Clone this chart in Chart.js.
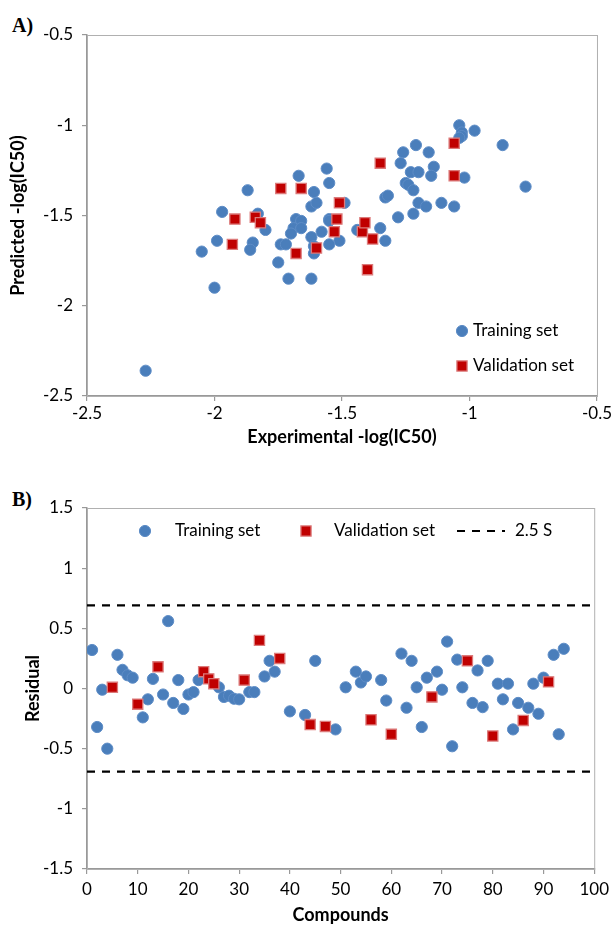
<!DOCTYPE html>
<html>
<head>
<meta charset="utf-8">
<script src="https://cdn.jsdelivr.net/npm/chart.js@4.4.0/dist/chart.umd.min.js"></script>
<style>
body{margin:0;background:#fff;width:614px;height:927px;position:relative;overflow:hidden}
.tag{position:absolute;left:12px;font-family:"Liberation Serif",serif;font-weight:bold;font-size:20px;line-height:20px}
canvas{position:absolute;left:0}
</style>
</head>
<body>
<div class="tag" style="top:15px">A)</div>
<div class="tag" style="top:489px">B)</div>
<canvas id="chartA" width="614" height="470" style="top:0"></canvas>
<canvas id="chartB" width="614" height="457" style="top:470px"></canvas>
<script>
// panel A: experimental vs predicted
const trainExp = [-1.87,-1.97,-1.83,-1.99,-1.85,-1.86,-2.05,-2.00,-2.27,-1.67,-1.56,-1.55,-1.61,-1.26,-1.21,-1.27,-1.23,-1.20,-1.25,-1.24,-1.22,-1.20,-1.33,-1.32,-1.28,-1.22,-1.49,-1.62,-1.60,-1.80,-1.68,-1.66,-1.69,-1.70,-1.66,-1.55,-1.55,-1.58,-1.62,-1.51,-1.55,-1.61,-1.61,-1.74,-1.72,-1.75,-1.71,-1.62,-1.44,-1.35,-1.33,-1.04,-1.03,-1.03,-1.04,-0.98,-0.87,-1.16,-1.14,-1.15,-1.02,-0.78,-1.17,-1.11,-1.06];
const trainPred = [-1.36,-1.48,-1.49,-1.64,-1.65,-1.69,-1.70,-1.90,-2.36,-1.28,-1.24,-1.32,-1.37,-1.15,-1.11,-1.21,-1.26,-1.26,-1.32,-1.33,-1.36,-1.43,-1.40,-1.39,-1.51,-1.49,-1.43,-1.45,-1.43,-1.58,-1.52,-1.53,-1.57,-1.60,-1.57,-1.52,-1.53,-1.59,-1.62,-1.64,-1.66,-1.67,-1.71,-1.66,-1.66,-1.76,-1.85,-1.85,-1.58,-1.57,-1.64,-1.00,-1.04,-1.06,-1.07,-1.03,-1.11,-1.15,-1.23,-1.28,-1.29,-1.34,-1.45,-1.43,-1.45];
const valExp = [-1.92,-1.84,-1.82,-1.93,-1.74,-1.66,-1.35,-1.51,-1.52,-1.53,-1.60,-1.68,-1.42,-1.41,-1.38,-1.40,-1.06,-1.06];
const valPred = [-1.52,-1.51,-1.54,-1.66,-1.35,-1.35,-1.21,-1.43,-1.52,-1.59,-1.68,-1.71,-1.59,-1.54,-1.63,-1.80,-1.10,-1.28];

// panel B: residuals by compound number
const trainIdx = [1,2,3,4,6,7,8,9,11,12,13,15,16,17,18,19,20,21,22,26,27,28,29,30,32,33,35,36,37,40,43,45,49,51,53,54,55,58,59,62,63,64,65,66,67,69,70,71,72,73,74,76,77,78,79,81,82,83,84,85,87,88,89,90,92,93,94];
const trainRes = [0.32,-0.32,-0.01,-0.50,0.28,0.155,0.11,0.09,-0.24,-0.09,0.08,-0.05,0.56,-0.12,0.07,-0.17,-0.05,-0.03,0.07,0.01,-0.07,-0.06,-0.085,-0.09,-0.03,-0.03,0.10,0.23,0.14,-0.19,-0.22,0.23,-0.34,0.01,0.14,0.05,0.10,0.07,-0.10,0.29,-0.16,0.23,0.01,-0.32,0.09,0.14,-0.01,0.39,-0.48,0.24,0.01,-0.12,0.15,-0.155,0.23,0.04,-0.09,0.04,-0.34,-0.12,-0.16,0.04,-0.21,0.09,0.28,-0.38,0.33];
const valIdx = [5,10,14,23,24,25,31,34,38,44,47,56,60,68,75,80,86,91];
const valRes = [0.01,-0.13,0.18,0.14,0.08,0.04,0.07,0.40,0.25,-0.30,-0.315,-0.26,-0.38,-0.07,0.23,-0.395,-0.265,0.055];
const limit = 0.69; // 2.5 S

const ticksA = [-2.5,-2,-1.5,-1,-0.5];
const ticksBx = [0,10,20,30,40,50,60,70,80,90,100];
const ticksBy = [-1.5,-1,-0.5,0,0.5,1,1.5];

const pairs = (xs, ys) => xs.map((x, i) => ({x: x, y: ys[i]}));

const FONT = 'Lato, "Open Sans", sans-serif';
const axisGray = '#999999';
const blueStyle = {pointStyle: 'circle', pointRadius: 5.6, backgroundColor: '#4a7ebb', borderColor: '#5d8cc6', borderWidth: 1};
const redStyle = {pointStyle: 'rect', pointRadius: 7.2, backgroundColor: '#c00000', borderColor: '#dc7a7a', borderWidth: 1.3};

// light frame round the plot area
const framePlugin = {
  id: 'frame',
  beforeDatasetsDraw(chart) {
    const a = chart.chartArea, ctx = chart.ctx;
    ctx.save();
    ctx.strokeStyle = '#b0b0b0';
    ctx.lineWidth = 1;
    ctx.strokeRect(a.left + 0.5, a.top + 0.5, a.right - a.left, a.bottom - a.top);
    ctx.restore();
  }
};

// legend drawn inside the plot area
const legendPlugin = {
  id: 'boxLegend',
  afterDatasetsDraw(chart, args, opts) {
    const ctx = chart.ctx;
    ctx.save();
    ctx.font = '17px ' + FONT;
    ctx.textBaseline = 'middle';
    opts.items.forEach(it => {
      const ds = chart.data.datasets[it.ds];
      ctx.strokeStyle = ds.borderColor;
      ctx.lineWidth = ds.borderWidth;
      if (it.kind === 'line') {
        ctx.setLineDash(it.dash);
        ctx.beginPath();
        ctx.moveTo(it.x, it.y);
        ctx.lineTo(it.x2, it.y);
        ctx.stroke();
        ctx.setLineDash([]);
      } else {
        ctx.fillStyle = ds.backgroundColor;
        ctx.beginPath();
        if (ds.pointStyle === 'rect') {
          const s = Math.SQRT1_2 * ds.pointRadius;
          ctx.rect(it.x - s, it.y - s, 2 * s, 2 * s);
        } else {
          ctx.arc(it.x, it.y, ds.pointRadius, 0, Math.PI * 2);
        }
        ctx.fill();
        ctx.stroke();
      }
      ctx.fillStyle = '#000';
      ctx.fillText(it.text, it.tx, it.y);
    });
    ctx.restore();
  }
};

function axis(min, max, ticks, title, fit, titlePad, tickPad) {
  return {
    type: 'linear', min: min, max: max,
    afterBuildTicks: s => { s.ticks = ticks.map(v => ({value: v})); },
    afterFit: s => { if (s.isHorizontal()) s.height = fit; else s.width = fit; },
    grid: {drawOnChartArea: false, tickLength: 5, color: axisGray, lineWidth: 1.2},
    border: {color: axisGray, width: 1.5},
    ticks: {color: '#000', padding: tickPad, font: {family: FONT, size: 17}, callback: v => String(v)},
    title: {display: true, text: title, color: '#000', font: {family: FONT, size: 18, weight: 'bold'}, padding: titlePad}
  };
}

new Chart(document.getElementById('chartA'), {
  type: 'scatter',
  data: {
    datasets: [
      Object.assign({label: 'Validation set', data: pairs(valExp, valPred), order: 0}, redStyle),
      Object.assign({label: 'Training set', data: pairs(trainExp, trainPred), order: 1}, blueStyle)
    ]
  },
  options: {
    responsive: false, animation: false,
    layout: {padding: {left: 0, right: 17, top: 35, bottom: 0}},
    plugins: {
      legend: {display: false}, tooltip: {enabled: false},
      boxLegend: {items: [
        {ds: 1, x: 462, y: 331, tx: 473, text: 'Training set'},
        {ds: 0, x: 462, y: 366, tx: 473, text: 'Validation set'}
      ]}
    },
    scales: {
      x: axis(-2.5, -0.5, ticksA, 'Experimental -log(IC50)', 74, {top: 0, bottom: 22}, 2),
      y: axis(-2.5, -0.5, ticksA, 'Predicted -log(IC50)', 87, {top: 7, bottom: 0}, 9)
    }
  },
  plugins: [framePlugin, legendPlugin]
});

new Chart(document.getElementById('chartB'), {
  type: 'scatter',
  data: {
    datasets: [
      Object.assign({label: 'Validation set', data: pairs(valIdx, valRes), order: 0}, redStyle),
      Object.assign({label: 'Training set', data: pairs(trainIdx, trainRes), order: 1}, blueStyle),
      {type: 'line', label: '2.5 S', data: [{x: 0, y: limit}, {x: 100, y: limit}], borderColor: '#000', borderWidth: 2.2, borderDash: [8, 7], pointRadius: 0, order: 2},
      {type: 'line', label: '-2.5 S', data: [{x: 0, y: -limit}, {x: 100, y: -limit}], borderColor: '#000', borderWidth: 2.2, borderDash: [8, 7], pointRadius: 0, order: 2}
    ]
  },
  options: {
    responsive: false, animation: false,
    layout: {padding: {left: 0, right: 17, top: 38, bottom: 0}},
    plugins: {
      legend: {display: false}, tooltip: {enabled: false},
      boxLegend: {items: [
        {ds: 1, x: 145, y: 61, tx: 175, text: 'Training set'},
        {ds: 0, x: 306, y: 61, tx: 334, text: 'Validation set'},
        {ds: 2, kind: 'line', x: 457, x2: 505, y: 61, dash: [8, 7], tx: 515, text: '2.5 S'}
      ]}
    },
    scales: {
      x: axis(0, 100, ticksBx, 'Compounds', 58, {top: 0, bottom: 1}, 5),
      y: axis(-1.5, 1.5, ticksBy, 'Residual', 87, {top: 22, bottom: 0}, 9)
    }
  },
  plugins: [framePlugin, legendPlugin]
});
</script>
</body>
</html>
